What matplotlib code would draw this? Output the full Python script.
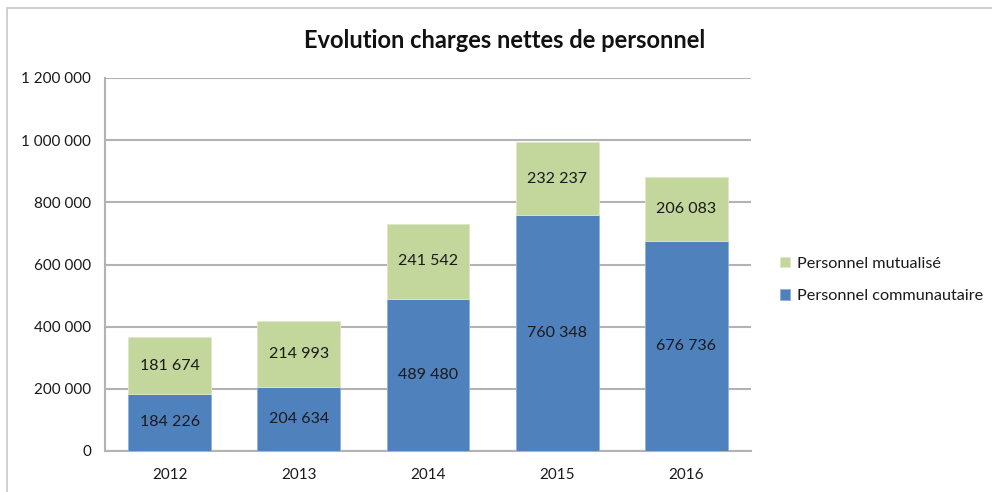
import matplotlib.pyplot as plt
from matplotlib.patches import Rectangle

years = ["2012", "2013", "2014", "2015", "2016"]
communautaire = [184226, 204634, 489480, 760348, 676736]
mutualise = [181674, 214993, 241542, 232237, 206083]
yticks = [0, 200000, 400000, 600000, 800000, 1000000, 1200000]

blue = "#4F81BD"
green = "#C3D69B"
grey = "#B3B3B3"

plt.rcParams['font.family'] = ['Lato', 'DejaVu Sans']


def fmt(v):
    return "{:,}".format(v).replace(",", " ")


fig = plt.figure(figsize=(9.92, 4.92), dpi=100)
ax = fig.add_axes([105 / 992, 1 - 451 / 492, 646 / 992, 373 / 492])

x = range(len(years))
b1 = ax.bar(x, communautaire, width=0.64, color=blue, edgecolor="#8EB0DA",
            linewidth=0.6, label="Personnel communautaire", zorder=3)
b2 = ax.bar(x, mutualise, width=0.64, bottom=communautaire, color=green,
            edgecolor="#DDE8C6", linewidth=0.6, label="Personnel mutualisé", zorder=3)

for i in x:
    ax.text(i, communautaire[i] / 2, fmt(communautaire[i]), ha="center", va="center",
            fontsize=11.5, color="#1a1a1a", zorder=4)
    ax.text(i, communautaire[i] + mutualise[i] / 2, fmt(mutualise[i]), ha="center",
            va="center", fontsize=11.5, color="#1a1a1a", zorder=4)

ax.set_xlim(-0.5, len(years) - 0.5)
ax.set_ylim(0, 1200000)
ax.set_yticks(yticks)
ax.set_yticklabels([fmt(v) for v in yticks], fontsize=11, color="#1a1a1a")
ax.set_xticks(list(x))
ax.set_xticklabels(years, fontsize=11, color="#1a1a1a")
ax.tick_params(axis="both", length=0)
ax.tick_params(axis="y", pad=10)
ax.tick_params(axis="x", pad=12)
ax.yaxis.grid(True, color=grey, linewidth=1.5, zorder=0)
ax.set_axisbelow(True)
for s in ["top", "right"]:
    ax.spines[s].set_visible(False)
for s in ["left", "bottom"]:
    ax.spines[s].set_color(grey)
    ax.spines[s].set_linewidth(1.5)

fig.text(505 / 992, 1 - 40 / 492, "Evolution charges nettes de personnel",
         ha="center", va="center", fontsize=17, fontweight="bold", color="#111111")

leg = fig.legend(handles=[b2, b1], labels=["Personnel mutualisé", "Personnel communautaire"],
                 loc="upper left", bbox_to_anchor=(773 / 992, 1 - 250 / 492),
                 frameon=False, fontsize=11.7, handlelength=0.65, handleheight=0.65,
                 handletextpad=0.45, labelspacing=1.15, borderaxespad=0)
for t in leg.get_texts():
    t.set_color("#1a1a1a")

fig.patches.append(Rectangle((7 / 992, -0.05), 1.2, 1 - 8 / 492 + 0.05,
                             transform=fig.transFigure, fill=False,
                             edgecolor="#C8C8C8", linewidth=1.2))

fig.savefig("out.png", dpi=100)
